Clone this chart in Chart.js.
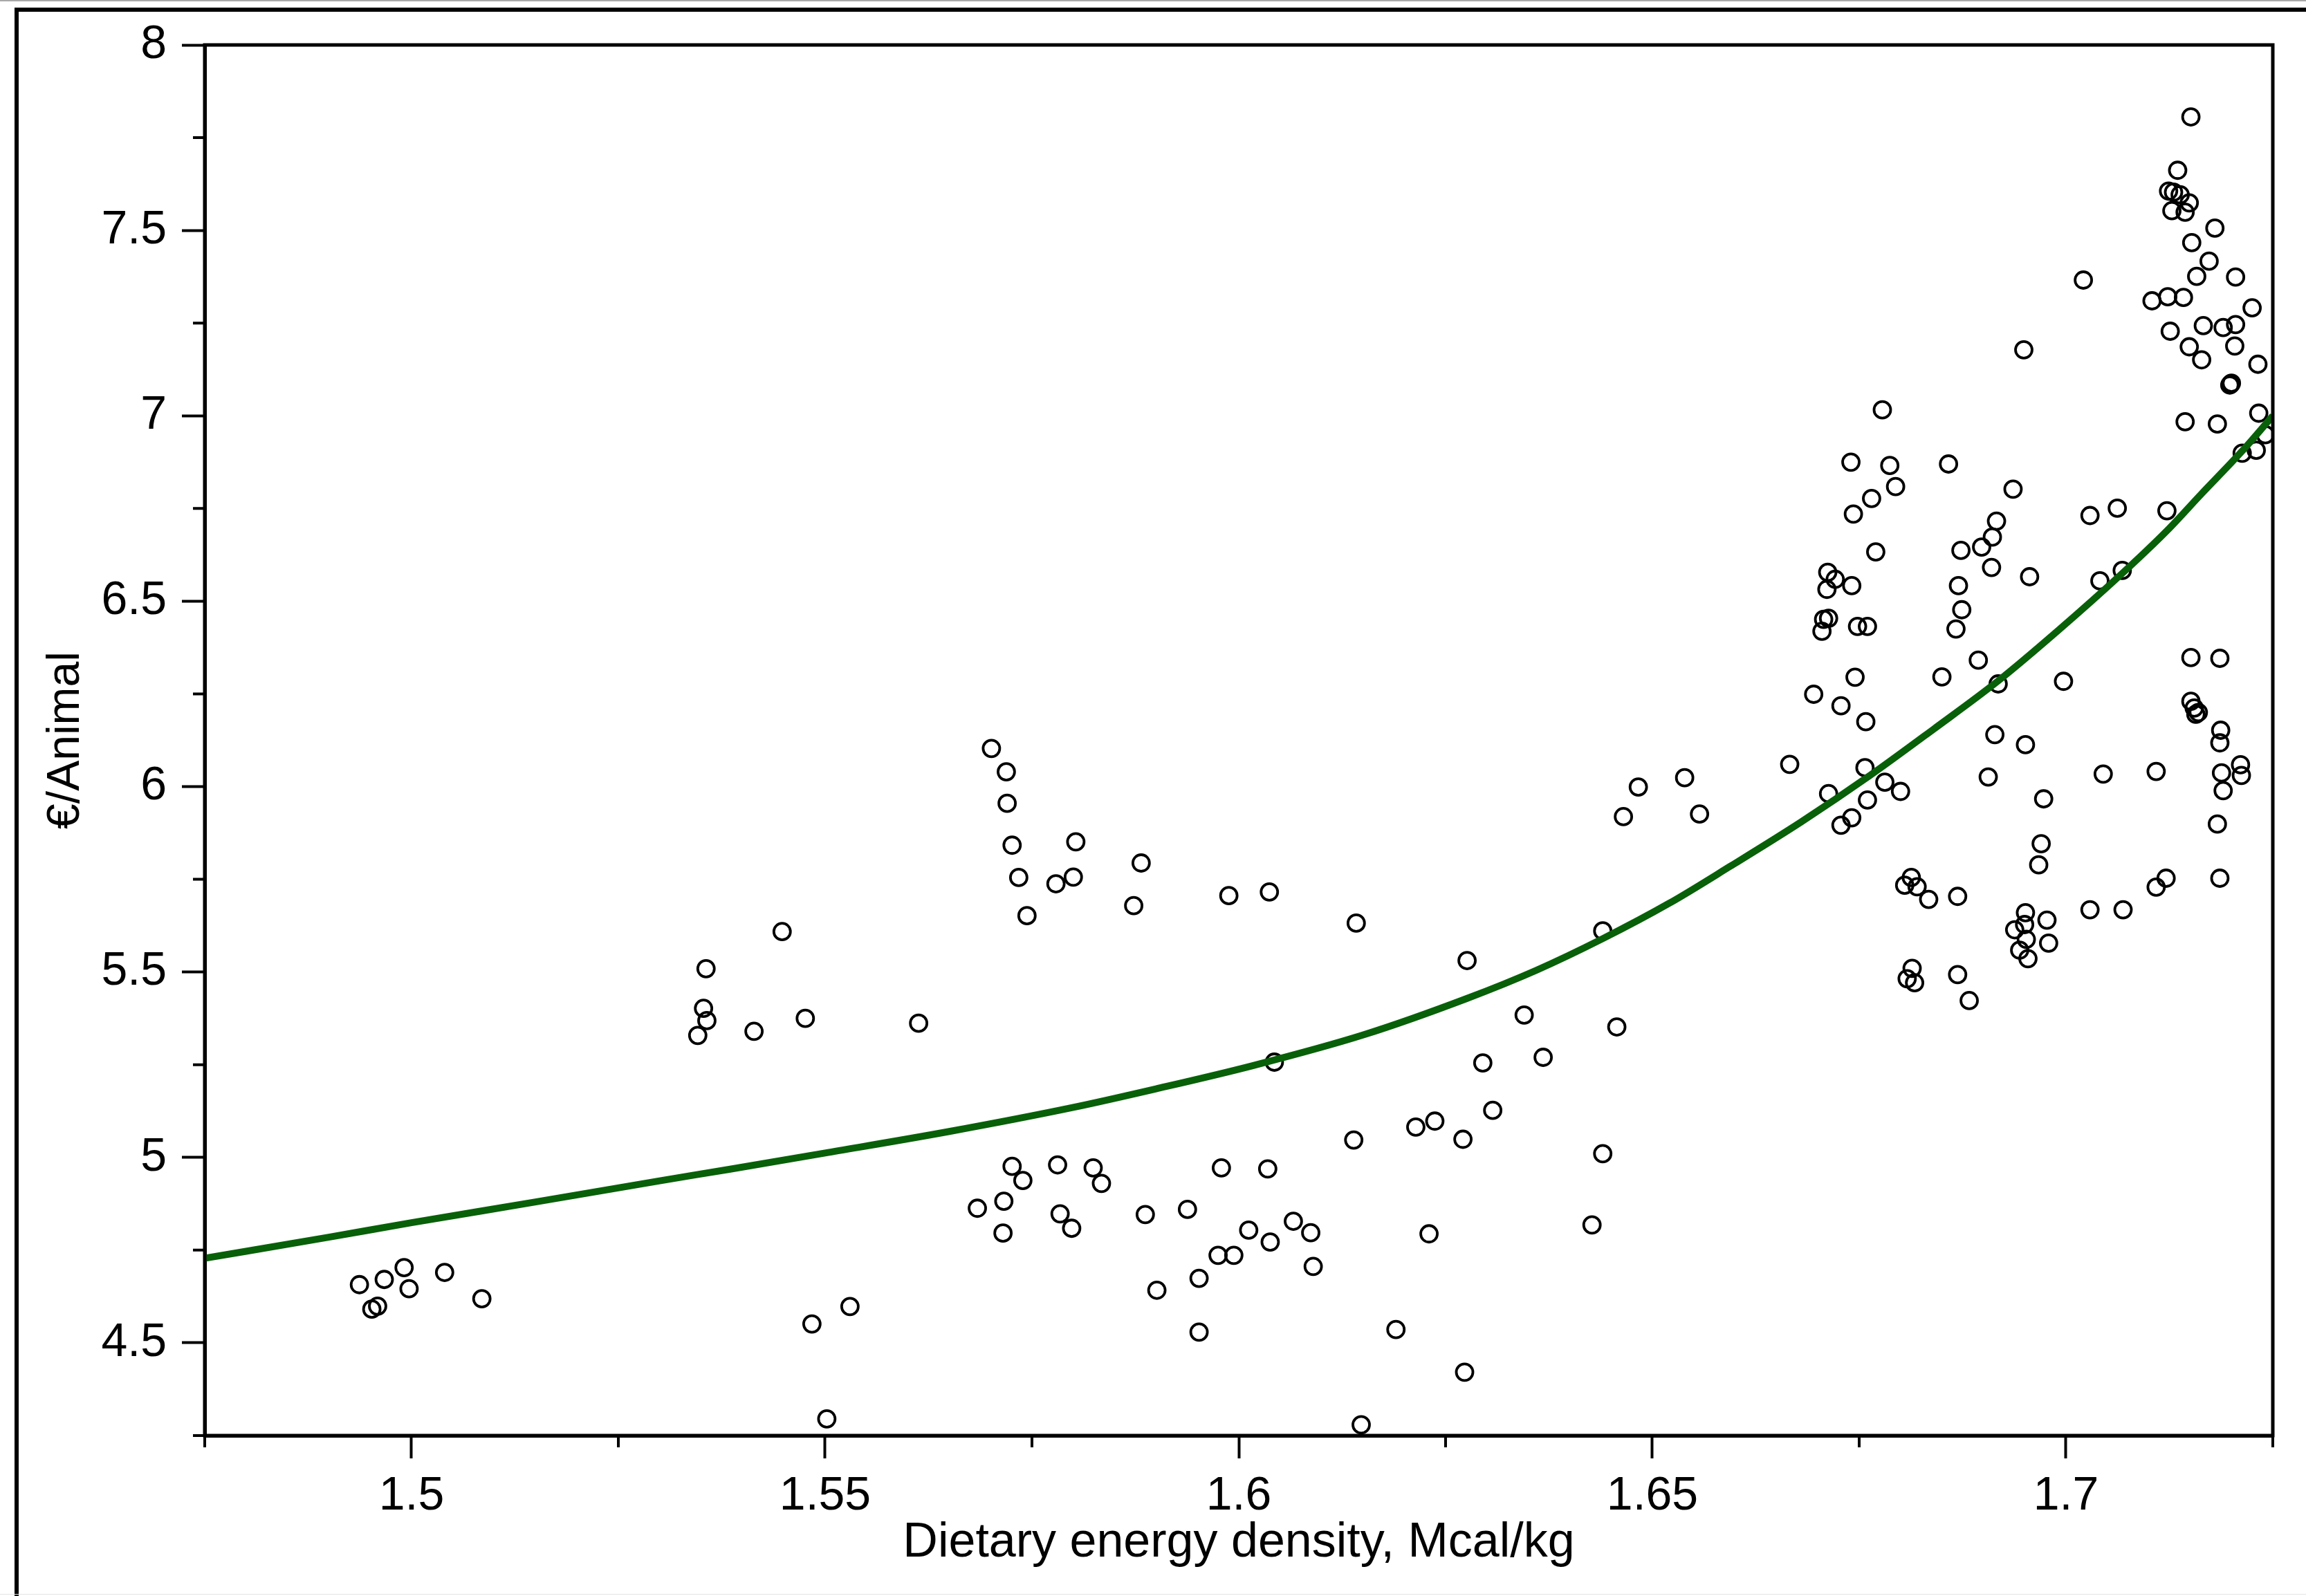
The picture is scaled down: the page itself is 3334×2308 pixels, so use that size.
<!DOCTYPE html>
<html lang="en">
<head>
<meta charset="UTF-8">
<title>Dietary energy density vs cost per animal</title>
<script src="https://cdn.jsdelivr.net/npm/chart.js@4"></script>
<style>
  html, body { margin: 0; padding: 0; background: #fff; }
  body { width: 3334px; height: 2308px; position: relative; overflow: hidden; }
  #chart { position: absolute; left: 0; top: 0; }
  .frame { position: absolute; left: 21px; top: 11px; width: 3400px; height: 2400px;
           border-left: 6px solid #000; border-top: 6px solid #000; pointer-events: none; }
  .edge-top { position: absolute; left: 0; top: 0; width: 3334px; height: 2px; background: #a8a8a8; }
  .edge-bottom { position: absolute; left: 0; top: 2305px; width: 3334px; height: 1px; background: #e4e4e4; }
</style>
</head>
<body>
<div class="edge-top"></div>
<canvas id="chart" width="3334" height="2308"></canvas>
<div class="frame"></div>
<div class="edge-bottom"></div>

<script>
// Observed diets: energy density (Mcal/kg) and cost (€/animal)
const energyDensity = [
  1.4937, 1.4967, 1.4991, 1.4997, 1.4952, 1.4959, 1.5040, 1.5085,
  1.5356, 1.5353, 1.5357, 1.5346, 1.5448, 1.5414, 1.5476, 1.5613, 1.5484, 1.5530, 1.5502,
  1.5701, 1.5719, 1.5720, 1.5726, 1.5734, 1.5744, 1.5779, 1.5800, 1.5803, 1.5873, 1.5882,
  1.5988, 1.6037, 1.6142,
  1.5684, 1.5716, 1.5715, 1.5726, 1.5739, 1.5781, 1.5784, 1.5798, 1.5824, 1.5834, 1.5887,
  1.5938, 1.5901, 1.5952, 1.5952, 1.5975, 1.5994, 1.5979, 1.6012, 1.6035, 1.6038, 1.6066,
  1.6087, 1.6090, 1.6043,
  1.6139, 1.6190, 1.6148, 1.6214, 1.6237, 1.6230, 1.6271, 1.6273, 1.6276, 1.6295, 1.6307,
  1.6345, 1.6368, 1.6427, 1.6440, 1.6440, 1.6457, 1.6465, 1.6483, 1.6539, 1.6557,
  1.6666, 1.6695, 1.6712, 1.6721, 1.6711, 1.6741, 1.6707, 1.6713, 1.6705, 1.6748, 1.6760,
  1.6745, 1.6728, 1.6758, 1.6713, 1.6757, 1.6760, 1.6741, 1.6728, 1.6781, 1.6800,
  1.6740, 1.6743, 1.6765, 1.6770, 1.6778, 1.6787, 1.6794, 1.6858, 1.6873, 1.6870, 1.6874,
  1.6867, 1.6850, 1.6894, 1.6898, 1.6911, 1.6916, 1.6910, 1.6918, 1.6914, 1.6906, 1.6936,
  1.6949, 1.6956, 1.6951, 1.6973, 1.6970, 1.6967, 1.6997,
  1.6813, 1.6805, 1.6820, 1.6834, 1.6869, 1.6814, 1.6808, 1.6817, 1.6869, 1.6883,
  1.6951, 1.6938, 1.6950, 1.6952, 1.6944, 1.6954, 1.6977, 1.6979,
  1.7021, 1.7029, 1.7062, 1.7041, 1.7068, 1.7045, 1.7029, 1.7069, 1.7122, 1.7109, 1.7121,
  1.7109, 1.7151, 1.7186, 1.7151, 1.7155, 1.7160, 1.7157, 1.7187, 1.7186, 1.7188, 1.7211,
  1.7212, 1.7190, 1.7183, 1.7186,
  1.7151, 1.7135, 1.7124, 1.7130, 1.7138, 1.7149, 1.7128, 1.7144, 1.7152, 1.7180, 1.7173,
  1.7158, 1.7205, 1.7104, 1.7123, 1.7142, 1.7225, 1.7126, 1.7166, 1.7190, 1.7205, 1.7149,
  1.7204, 1.7164, 1.7232, 1.7199, 1.7200, 1.7198, 1.7144, 1.7183, 1.7233, 1.7241, 1.7213,
  1.7230
];
const costPerAnimal = [
  4.657, 4.671, 4.703, 4.646, 4.591, 4.599, 4.690, 4.619,
  5.509, 5.402, 5.369, 5.329, 5.609, 5.340, 5.375, 5.362, 4.551, 4.598, 4.295,
  6.103, 6.040, 5.955, 5.842, 5.755, 5.652, 5.738, 5.756, 5.851, 5.679, 5.794,
  5.706, 5.716, 5.632,
  4.863, 4.882, 4.796, 4.976, 4.938, 4.980, 4.848, 4.809, 4.972, 4.930, 4.846,
  4.860, 4.642, 4.674, 4.529, 4.736, 4.736, 4.972, 4.804, 4.969, 4.772, 4.828,
  4.797, 4.706, 5.257,
  5.047, 4.536, 4.279, 5.082, 5.098, 4.794, 5.049, 4.421, 5.531, 5.255, 5.127,
  5.384, 5.270, 4.818, 5.010, 5.611, 5.352, 5.919, 5.999, 6.024, 5.926,
  6.060, 6.249, 6.578, 6.559, 6.532, 6.542, 6.451, 6.454, 6.419, 6.432, 6.432,
  6.295, 6.218, 6.175, 5.981, 6.051, 5.964, 5.916, 5.896, 6.012, 5.987,
  6.875, 6.735, 6.777, 6.633, 7.016, 6.866, 6.809, 6.870, 6.637, 6.542, 6.477,
  6.425, 6.296, 6.341, 6.646, 6.673, 6.716, 6.591, 6.277, 6.140, 6.026, 6.802,
  7.178, 6.566, 6.113, 5.967, 5.846, 5.789, 6.284,
  5.755, 5.734, 5.730, 5.696, 5.704, 5.510, 5.482, 5.471, 5.493, 5.423,
  5.660, 5.614, 5.628, 5.588, 5.559, 5.536, 5.640, 5.578,
  7.366, 6.731, 6.751, 6.555, 6.583, 6.034, 5.668, 5.668, 6.744, 5.729, 5.753,
  6.041, 6.348, 6.346, 6.230, 6.212, 6.200, 6.195, 6.152, 6.118, 6.037, 6.059,
  6.030, 5.989, 5.899, 5.753,
  7.806, 7.662, 7.606, 7.603, 7.596, 7.574, 7.553, 7.549, 7.467, 7.506, 7.417,
  7.376, 7.374, 7.310, 7.321, 7.319, 7.291, 7.228, 7.243, 7.238, 7.246, 7.186,
  7.188, 7.151, 7.139, 7.085, 7.088, 7.083, 6.984, 6.978, 7.007, 6.949, 6.899,
  6.907
];

// Fitted response curve (green)
const fitDensity = [
  1.475, 1.490, 1.500, 1.515, 1.530, 1.5384, 1.550, 1.565, 1.580, 1.590, 1.6016,
  1.615, 1.6275, 1.636, 1.644, 1.652, 1.6594, 1.668, 1.6763, 1.684, 1.6918,
  1.699, 1.7068, 1.7122, 1.7164, 1.7213, 1.725
];
const fitCost = [
  4.728, 4.785, 4.824, 4.880, 4.937, 4.968, 5.012, 5.070, 5.135, 5.185, 5.247,
  5.330, 5.428, 5.505, 5.590, 5.685, 5.785, 5.905, 6.030, 6.155, 6.285,
  6.420, 6.575, 6.690, 6.790, 6.905, 7.000
];

// Axis ranges and ticks
const xRange = [1.475, 1.725];
const yRange = [4.25, 8];
const xTicks = [1.5, 1.55, 1.6, 1.65, 1.7];
const yTicks = [4.5, 5, 5.5, 6, 6.5, 7, 7.5, 8];
const xMinorTicks = [1.475, 1.525, 1.575, 1.625, 1.675, 1.725];
const yMinorTicks = [4.25, 4.75, 5.25, 5.75, 6.25, 6.75, 7.25, 7.75];

const observed = energyDensity.map((x, i) => ({ x: x, y: costPerAnimal[i] }));
const fitted = fitDensity.map((x, i) => ({ x: x, y: fitCost[i] }));

// minor ticks and the box around the plot
const frameAndMinorTicks = {
  id: 'frameAndMinorTicks',
  afterDraw(chart) {
    const { ctx, chartArea: a, scales: { x, y } } = chart;
    ctx.save();
    ctx.strokeStyle = '#000';
    ctx.lineWidth = 4;
    ctx.beginPath();
    xMinorTicks.forEach(v => {
      const px = x.getPixelForValue(v);
      ctx.moveTo(px, a.bottom);
      ctx.lineTo(px, a.bottom + 17);
    });
    yMinorTicks.forEach(v => {
      const py = y.getPixelForValue(v);
      ctx.moveTo(a.left, py);
      ctx.lineTo(a.left - 17, py);
    });
    ctx.stroke();
    ctx.lineWidth = 5;
    ctx.strokeRect(a.left, a.top, a.right - a.left, a.bottom - a.top);
    ctx.restore();
  }
};

Chart.defaults.font.family = '"Liberation Sans", Arial, sans-serif';
Chart.defaults.color = '#000';

const ctx = document.getElementById('chart').getContext('2d');
new Chart(ctx, {
  type: 'scatter',
  data: {
    datasets: [
      {
        type: 'line',
        label: 'Fit',
        data: fitted,
        borderColor: 'rgb(8, 96, 8)',
        borderWidth: 10,
        pointRadius: 0,
        fill: false,
        cubicInterpolationMode: 'monotone',
        order: 1
      },
      {
        label: 'Diets',
        data: observed,
        pointStyle: 'circle',
        pointRadius: 12,
        borderWidth: 3.8,
        borderColor: '#000',
        backgroundColor: 'rgba(0,0,0,0)',
        order: 2
      }
    ]
  },
  options: {
    responsive: false,
    animation: false,
    devicePixelRatio: 1,
    layout: { autoPadding: false, padding: { left: 0, top: 65, right: 48, bottom: 0 } },
    plugins: { legend: { display: false }, tooltip: { enabled: false } },
    scales: {
      x: {
        type: 'linear',
        min: xRange[0],
        max: xRange[1],
        afterFit: s => { s.height = 232; },
        afterBuildTicks: s => { s.ticks = xTicks.map(v => ({ value: v })); },
        border: { display: true, color: '#000', width: 5 },
        grid: { drawOnChartArea: false, drawTicks: true, tickLength: 33, tickWidth: 4, tickColor: '#000' },
        ticks: {
          padding: 14,
          font: { size: 68 },
          callback: v => (Math.round(v * 100) / 100).toString()
        },
        title: {
          display: true,
          text: 'Dietary energy density, Mcal/kg',
          font: { size: 70 },
          padding: { top: 0, bottom: 34 }
        }
      },
      y: {
        type: 'linear',
        min: yRange[0],
        max: yRange[1],
        afterFit: s => { s.width = 296; },
        afterBuildTicks: s => { s.ticks = yTicks.map(v => ({ value: v })); },
        border: { display: true, color: '#000', width: 5 },
        grid: { drawOnChartArea: false, drawTicks: true, tickLength: 33, tickWidth: 4, tickColor: '#000' },
        ticks: {
          padding: 22,
          font: { size: 68 },
          callback: v => (Math.round(v * 10) / 10).toString()
        },
        title: {
          display: true,
          text: '€/Animal',
          font: { size: 66 },
          padding: { top: 56, bottom: 0 }
        }
      }
    }
  },
  plugins: [frameAndMinorTicks]
});
</script>
</body>
</html>
